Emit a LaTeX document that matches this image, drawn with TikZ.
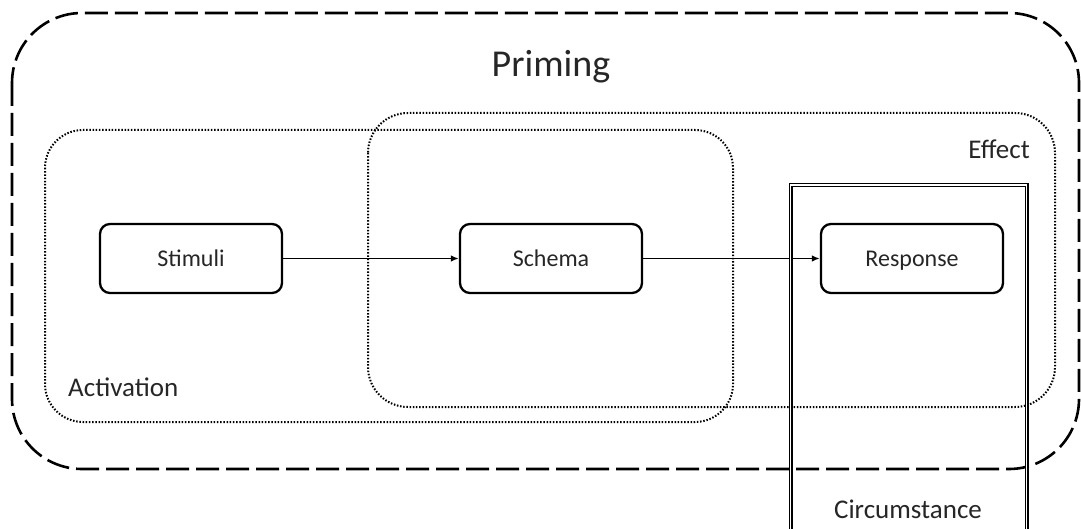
\documentclass[tikz,border=0pt]{standalone}
\usepackage{fontspec}
\setmainfont{Carlito}
\usetikzlibrary{arrows.meta}
\definecolor{txt}{HTML}{262626}
\tikzset{
  proc/.style={draw=black, line width=2.3, rounded corners=10, minimum width=182, minimum height=69,
    inner sep=0, text height=15.5, text depth=0, text=txt, font=\fontsize{24}{28}\selectfont},
  lbl/.style={text=txt, inner sep=0, font=\fontsize{27}{32}\selectfont},
  primingbox/.style={draw=black, line width=2.6, rounded corners=70, dash pattern=on 23 off 7},
  dotbox/.style={draw=black, line width=2, rounded corners=38, dash pattern=on 1.5 off 1.7},
  circbox/.style={draw=black, line width=1.1, double=white, double distance=1.8},
  flow/.style={line width=1.7, -{Latex[length=8,width=6.5]}}
}
\begin{document}
\begin{tikzpicture}[x=1pt,y=-1pt]
\useasboundingbox (0,0) rectangle (1081,529);
% containers
\draw[primingbox] (12,13) rectangle (1079,469);
\draw[dotbox] (45,130) rectangle (733,422);
\draw[dotbox, rounded corners=40] (368,113) rectangle (1055,407);
% labels
\node[lbl, anchor=base, font=\fontsize{38}{44}\selectfont] (priming) at (551,77) {Priming};
\node[lbl, anchor=base west] (activation) at (68,396) {Activation};
\node[lbl, anchor=base east] (effect) at (1030,159) {Effect};
% process nodes
\node[proc] (stimuli) at (191,258.5) {Stimuli};
\node[proc] (schema) at (551,258.5) {Schema};
\node[proc] (response) at (912,258.5) {Response};
\draw[flow] (stimuli.east) -- (schema.west);
\draw[flow] (schema.east) -- (response.west);
% circumstance
\coordinate (cbl) at (790.5,540);
\coordinate (ctl) at (790.5,185);
\coordinate (ctr) at (1026.5,185);
\coordinate (cbr) at (1026.5,540);
\draw[circbox] (cbl) -- (ctl) -- (ctr) -- (cbr);
\node[lbl, anchor=base] (circ) at (908,518) {Circumstance};
\end{tikzpicture}
\end{document}
